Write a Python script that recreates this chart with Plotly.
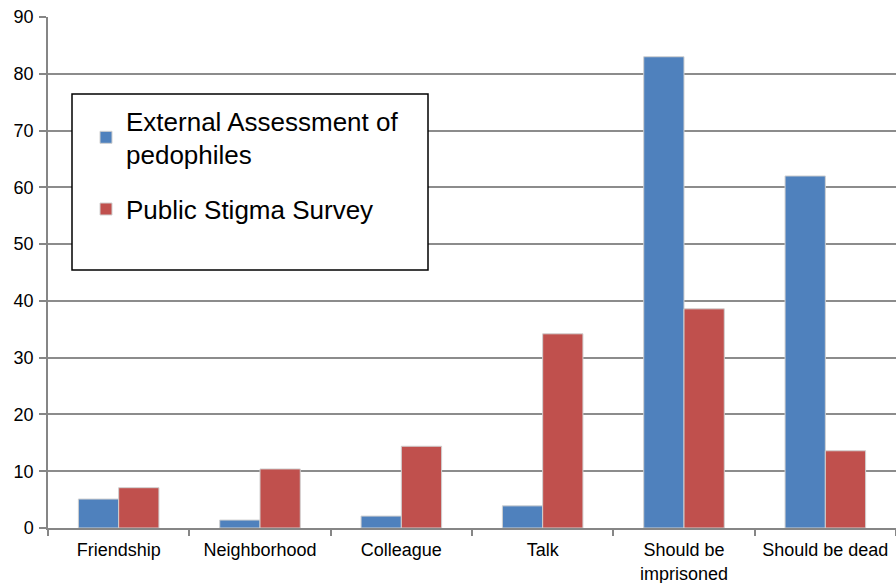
import plotly.graph_objects as go

categories = ["Friendship", "Neighborhood", "Colleague", "Talk", "Should be<br>imprisoned", "Should be dead"]
external_assessment = [5.1, 1.4, 2.1, 3.9, 83.0, 62.0]
public_stigma = [7.1, 10.4, 14.4, 34.2, 38.6, 13.6]
y_ticks = [0, 10, 20, 30, 40, 50, 60, 70, 80, 90]

W, H = 896, 583
ml, mr, mt, mb = 48, 0, 17, 55
pw, ph = W - ml - mr, H - mt - mb

def px_x(x):
    return (x - ml) / pw

def px_y(y):
    return (H - mb - y) / ph

fig = go.Figure()
fig.add_trace(go.Bar(
    x=categories, y=external_assessment,
    name="External Assessment of<br>pedophiles",
    marker=dict(color="#4F81BD", line=dict(color="#D0D0D0", width=1)),
    legendgroup="a",
))
fig.add_trace(go.Bar(
    x=categories, y=public_stigma,
    name="Public Stigma Survey",
    marker=dict(color="#C0504D", line=dict(color="#D0D0D0", width=1)),
    legendgroup="b",
))

fig.update_layout(
    width=W, height=H,
    margin=dict(l=ml, r=mr, t=mt, b=mb),
    paper_bgcolor="white", plot_bgcolor="white",
    font=dict(family="Liberation Sans, Arial, sans-serif", color="#000000", size=18),
    barmode="group", bargap=0.43, bargroupgap=0,
    showlegend=True,
    legend=dict(
        x=px_x(86), y=px_y(97), xanchor="left", yanchor="top",
        bgcolor="rgba(0,0,0,0)", borderwidth=0,
        font=dict(size=26, color="#000000"),
        tracegroupgap=18,
        traceorder="grouped",
    ),
    shapes=[dict(
        type="rect", xref="paper", yref="paper",
        x0=px_x(72), x1=px_x(428), y0=px_y(270), y1=px_y(94),
        line=dict(color="#000000", width=1.5), fillcolor="white", layer="above",
    )],
)

fig.update_xaxes(
    showline=True, linecolor="#868686", linewidth=1.5,
    ticks="outside", tickson="boundaries", ticklen=6, tickcolor="#868686", tickwidth=1.5,
    tickfont=dict(size=18), showgrid=False, ticklabelstandoff=5,
)
fig.update_yaxes(
    range=[0, 90], tickvals=y_ticks,
    showline=True, linecolor="#868686", linewidth=1.5,
    ticks="outside", ticklen=7, tickcolor="#868686", tickwidth=1.5,
    showgrid=True, gridcolor="#8C8C8C", gridwidth=1.5,
    tickfont=dict(size=18), zeroline=False, ticklabelstandoff=2,
)

fig.write_html("out.html")
